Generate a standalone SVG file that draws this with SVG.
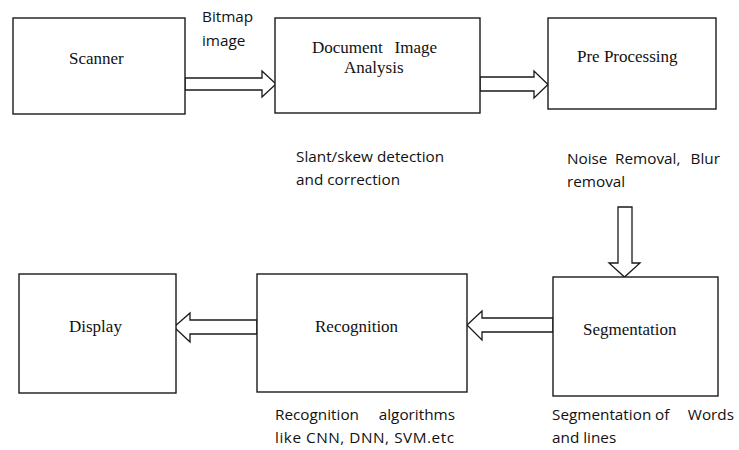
<svg xmlns="http://www.w3.org/2000/svg" width="739" height="450" viewBox="0 0 739 450">
<style>
.box{fill:#fff;stroke:#1a1a1a;stroke-width:1.4}
.arr{fill:#fff;stroke:#1a1a1a;stroke-width:1.3;stroke-linejoin:miter}
.t{font-family:"Liberation Serif","Times New Roman",serif;font-size:17px;fill:#111}
.n{font-family:"Open Sans","Liberation Sans",sans-serif;font-size:15.3px;fill:#111}
.e{text-anchor:end}
</style>
<rect width="739" height="450" fill="#fff"/>
<g id="connectors">
<polygon class="arr" points="185,78 262,78 262,71 276,84 262,97 262,90 185,90"/>
<polygon class="arr" points="480,77 534,77 534,71 548,84.5 534,98 534,91 480,91"/>
<polygon class="arr" points="618,207 632,207 632,263 640,263 624.5,277 609,263 618,263"/>
<polygon class="arr" points="553,318 482,318 482,311 467,325 482,340 482,332 553,332"/>
<polygon class="arr" points="257,320 190,320 190,313 174,327 190,342 190,334 257,334"/>
<text class="n" x="202" y="22">Bitmap</text>
<text class="n" x="202" y="46">image</text>
</g>
<g id="scanner">
<rect class="box" x="13" y="18" width="172" height="96"/>
<text class="t" x="69" y="64">Scanner</text>
</g>
<g id="document-image-analysis">
<rect class="box" x="275" y="18" width="205" height="95"/>
<text class="t" x="312" y="53">Document</text>
<text class="t" x="437" y="53" text-anchor="end">Image</text>
<text class="t" x="344" y="73">Analysis</text>
</g>
<g id="pre-processing">
<rect class="box" x="548" y="18" width="168" height="91"/>
<text class="t" x="577" y="62">Pre Processing</text>
</g>
<g id="segmentation">
<rect class="box" x="553" y="277" width="165" height="119"/>
<text class="t" x="583" y="335">Segmentation</text>
</g>
<g id="recognition">
<rect class="box" x="257" y="274" width="210" height="118"/>
<text class="t" x="315" y="332">Recognition</text>
</g>
<g id="display">
<rect class="box" x="19" y="274" width="157" height="119"/>
<text class="t" x="69" y="332">Display</text>
</g>
<g id="notes">
<text class="n" x="296" y="162">Slant/skew detection</text>
<text class="n" x="296" y="185">and correction</text>
<text class="n" x="567" y="164">Noise</text>
<text class="n" x="615" y="164">Removal,</text>
<text class="n e" x="720" y="164">Blur</text>
<text class="n" x="567" y="187">removal</text>
<text class="n" x="275" y="420">Recognition</text>
<text class="n e" x="455" y="420">algorithms</text>
<text class="n" x="275" y="443" textLength="179" lengthAdjust="spacing">like CNN, DNN, SVM.etc</text>
<text class="n" x="552" y="420">Segmentation</text>
<text class="n" x="655" y="420">of</text>
<text class="n e" x="734" y="420">Words</text>
<text class="n" x="552" y="443">and lines</text>
</g>
</svg>
